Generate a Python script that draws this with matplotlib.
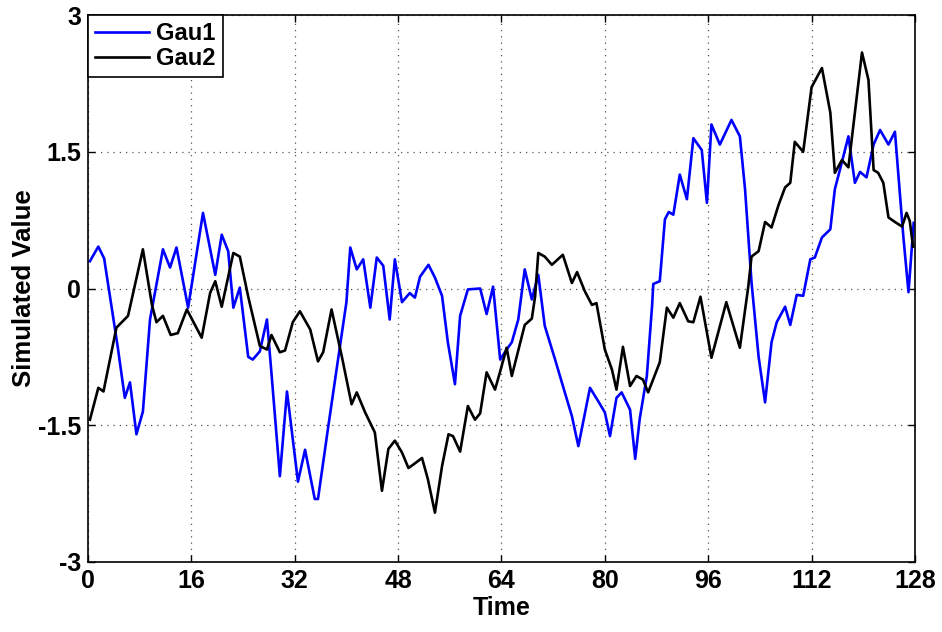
import matplotlib
matplotlib.use("Agg")
import matplotlib.pyplot as plt

# values (time, value) at the line vertices
gau1_t = [0.3, 1.6, 2.5, 4.6, 5.7, 6.5, 7.5, 8.5, 9.6, 11.6, 12.7, 13.7, 15.5,
          17.8, 19.7, 20.7, 21.7, 22.5, 23.5, 24.8, 25.5, 26.6, 27.7, 28.4,
          29.7, 30.8, 32.5, 33.6, 35.1, 35.6, 37.2, 38.7, 40.0, 40.6, 41.6,
          42.6, 43.7, 44.7, 45.7, 46.7, 47.5, 48.6, 49.8, 50.6, 51.4, 52.7,
          53.7, 54.8, 55.7, 56.8, 57.6, 58.8, 60.7, 61.7, 62.7, 63.8, 64.8,
          65.6, 66.6, 67.6, 68.7, 69.7, 70.7, 72.3, 73.8, 74.9, 75.9, 77.7,
          79.0, 80.0, 80.8, 81.8, 82.6, 83.9, 84.7, 85.4, 86.5, 87.3, 87.5,
          88.5, 89.3, 89.9, 90.6, 91.6, 92.7, 93.7, 95.0, 95.8, 96.5, 97.8,
          99.6, 100.9, 101.7, 102.7, 103.8, 104.8, 105.8, 106.6, 107.9, 108.7,
          109.7, 110.7, 111.8, 112.5, 113.6, 114.9, 115.6, 116.7, 117.7, 118.7,
          119.5, 120.5, 121.6, 122.6, 123.9, 124.9, 125.7, 126.2, 127.0, 127.8]
gau1_v = [0.30, 0.46, 0.33, -0.64, -1.20, -1.03, -1.60, -1.35, -0.34, 0.43, 0.23, 0.45, -0.21,
          0.83, 0.15, 0.59, 0.41, -0.21, 0.01, -0.75, -0.78, -0.69, -0.34, -0.93,
          -2.06, -1.13, -2.12, -1.77, -2.31, -2.31, -1.51, -0.78, -0.15, 0.45, 0.21,
          0.32, -0.21, 0.34, 0.25, -0.34, 0.32, -0.15, -0.05, -0.10, 0.13, 0.26,
          0.12, -0.08, -0.59, -1.05, -0.30, -0.01, 0.00, -0.28, 0.02, -0.78, -0.67,
          -0.59, -0.34, 0.21, -0.12, 0.15, -0.41, -0.78, -1.14, -1.40, -1.73, -1.09,
          -1.24, -1.36, -1.62, -1.20, -1.14, -1.33, -1.87, -1.43, -0.96, -0.20, 0.05,
          0.08, 0.76, 0.84, 0.81, 1.25, 0.98, 1.65, 1.52, 0.94, 1.80, 1.58,
          1.85, 1.67, 1.09, 0.07, -0.75, -1.25, -0.59, -0.37, -0.20, -0.40,
          -0.07, -0.08, 0.32, 0.34, 0.56, 0.65, 1.09, 1.39, 1.67, 1.16,
          1.28, 1.22, 1.58, 1.74, 1.58, 1.72, 1.01, 0.57, -0.04, 0.72]

gau2_t = [0.3, 1.6, 2.4, 4.4, 6.2, 8.5, 9.9, 10.6, 11.6, 12.8, 13.9, 15.3, 17.6,
          18.9, 19.7, 20.7, 22.5, 23.5, 24.8, 26.6, 27.7, 28.4, 29.7, 30.5,
          31.7, 32.8, 34.4, 35.6, 36.4, 37.7, 39.3, 40.8, 41.6, 42.9, 44.4,
          45.5, 46.5, 47.5, 48.6, 49.6, 50.4, 51.7, 52.6, 53.7, 54.8, 55.8,
          56.5, 57.6, 58.8, 59.9, 60.7, 61.7, 63.0, 63.8, 64.8, 65.6, 66.6,
          67.6, 68.7, 69.2, 69.7, 70.7, 71.8, 73.5, 74.9, 75.7, 76.9, 78.0,
          78.7, 80.0, 81.1, 81.8, 82.8, 83.9, 84.9, 85.9, 86.7, 88.5, 89.6,
          90.6, 91.6, 92.9, 93.7, 94.8, 96.5, 98.8, 100.9, 102.2, 102.7, 103.8,
          104.8, 105.8, 106.9, 107.9, 108.7, 109.4, 110.7, 112.0, 113.6, 114.9,
          115.6, 116.7, 117.7, 118.7, 119.8, 120.8, 121.6, 122.3, 123.1, 123.9,
          124.9, 126.0, 126.7, 127.2, 127.7]
gau2_v = [-1.44, -1.09, -1.13, -0.43, -0.30, 0.43, -0.18, -0.37, -0.30, -0.51, -0.49, -0.23, -0.54,
          -0.05, 0.08, -0.20, 0.39, 0.35, -0.09, -0.63, -0.67, -0.51, -0.70, -0.68,
          -0.37, -0.25, -0.45, -0.80, -0.70, -0.23, -0.75, -1.27, -1.14, -1.36, -1.58,
          -2.22, -1.76, -1.67, -1.80, -1.97, -1.93, -1.86, -2.09, -2.46, -1.95, -1.60,
          -1.62, -1.79, -1.29, -1.44, -1.37, -0.92, -1.11, -0.91, -0.65, -0.96, -0.68,
          -0.40, -0.33, -0.09, 0.39, 0.35, 0.26, 0.37, 0.06, 0.18, -0.03, -0.18,
          -0.16, -0.67, -0.89, -1.11, -0.64, -1.07, -0.96, -1.00, -1.14, -0.81, -0.21,
          -0.32, -0.16, -0.36, -0.37, -0.09, -0.76, -0.15, -0.65, 0.02, 0.35, 0.41,
          0.73, 0.67, 0.92, 1.11, 1.16, 1.61, 1.50, 2.21, 2.42, 1.93,
          1.27, 1.41, 1.33, 1.93, 2.59, 2.29, 1.30, 1.27, 1.16, 0.78,
          0.73, 0.68, 0.83, 0.74, 0.46]

x_ticks = [0, 16, 32, 48, 64, 80, 96, 112, 128]
y_ticks = [-3, -1.5, 0, 1.5, 3]
y_labels = ['-3', '-1.5', '0', '1.5', '3']

plt.rcParams['font.family'] = ['Liberation Sans', 'DejaVu Sans']
plt.rcParams['font.weight'] = 'bold'

fig = plt.figure(figsize=(9.42, 6.32), dpi=100)
ax = fig.add_axes([0.0934, 0.111, 0.8779, 0.865])

ax.plot(gau1_t, gau1_v, color='#0000ff', lw=1.9, label='Gau1')
ax.plot(gau2_t, gau2_v, color='black', lw=1.9, label='Gau2')

ax.set_xlim(0, 128)
ax.set_ylim(-3, 3)
ax.set_xticks(x_ticks)
ax.set_yticks(y_ticks)
ax.set_yticklabels(y_labels)
ax.tick_params(direction='in', top=True, right=True, labelsize=18, length=5, width=1)
ax.tick_params(axis='x', pad=5)
ax.tick_params(axis='y', pad=5)
for lab in ax.get_xticklabels() + ax.get_yticklabels():
    lab.set_fontweight('bold')
ax.grid(True, linestyle=(0, (1, 4)), color='#555555', lw=0.9)
for s in ax.spines.values():
    s.set_linewidth(1.2)

ax.set_xlabel('Time', fontsize=18, fontweight='bold', labelpad=2)
ax.set_ylabel('Simulated Value', fontsize=18.5, fontweight='bold', labelpad=1)

leg = ax.legend(loc='upper left', fontsize=17, fancybox=False, framealpha=1,
                edgecolor='black', borderaxespad=0, handlelength=2.3,
                handletextpad=0.3, borderpad=0.3, labelspacing=0.08)
leg.get_frame().set_linewidth(1.2)
for t in leg.get_texts():
    t.set_fontweight('bold')

fig.savefig('out.png', dpi=100)
